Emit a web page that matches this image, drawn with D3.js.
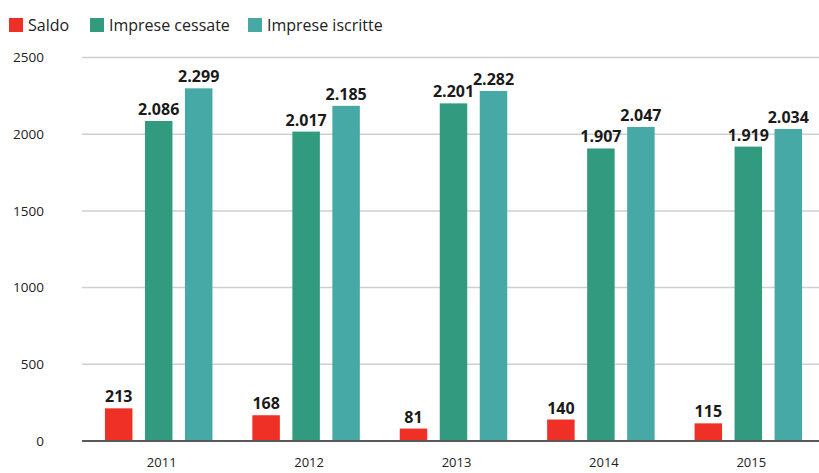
<!DOCTYPE html>
<html>
<head>
<meta charset="utf-8">
<script src="https://cdn.jsdelivr.net/npm/d3@7"></script>
<style>
  html, body { margin: 0; padding: 0; background: #fff; }
  svg { display: block; font-family: "Open Sans", sans-serif; }
</style>
</head>
<body>
<svg id="chart" width="819" height="473"></svg>
<script>
// Saldo tra imprese iscritte e cessate, 2011-2015
const years = ["2011", "2012", "2013", "2014", "2015"];
const seriesNames = ["Saldo", "Imprese cessate", "Imprese iscritte"];
const saldo = [213, 168, 81, 140, 115];
const cessate = [2086, 2017, 2201, 1907, 1919];
const iscritte = [2299, 2185, 2282, 2047, 2034];
const yTicks = [0, 500, 1000, 1500, 2000, 2500];
const colors = ["#ee3026", "#329b7f", "#47a9a5"];

const seriesValues = [saldo, cessate, iscritte];
const rows = years.map((y, i) => ({
  year: y,
  values: seriesNames.map((s, k) => ({ key: s, value: seriesValues[k][i] }))
}));

const it = d3.formatLocale({ decimal: ",", thousands: ".", grouping: [3], currency: ["€", ""] });
const fmt = it.format(",d");

const svg = d3.select("#chart");
const gridLeft = 82, gridRight = 819;

const y = d3.scaleLinear().domain([0, 2500]).range([441, 57.5]);
const x0 = d3.scaleBand().domain(years).range([85, 822]).padding(0);
const x1 = d3.scaleBand().domain(seriesNames).range([-53.75, 53.75])
  .paddingInner(0.3125).paddingOuter(0);
const color = d3.scaleOrdinal().domain(seriesNames).range(colors);

// horizontal gridlines
svg.append("g").selectAll("line")
  .data(yTicks.filter(t => t > 0))
  .join("line")
  .attr("x1", gridLeft).attr("x2", gridRight)
  .attr("y1", d => y(d)).attr("y2", d => y(d))
  .attr("stroke", "#cfcfcf").attr("stroke-width", 1.5);

// y axis labels
const yAxis = d3.axisLeft(y).tickValues(yTicks).tickSize(0).tickPadding(0).tickFormat(d3.format("d"));
const gy = svg.append("g").attr("transform", "translate(44,0)").call(yAxis);
gy.select(".domain").remove();
gy.selectAll("text")
  .attr("font-family", "Open Sans, sans-serif")
  .attr("font-size", 13.5)
  .attr("fill", "#222");

// bars
const groups = svg.append("g").selectAll("g")
  .data(rows)
  .join("g")
  .attr("transform", d => `translate(${x0(d.year) + x0.bandwidth() / 2},0)`);

groups.selectAll("rect")
  .data(d => d.values)
  .join("rect")
  .attr("x", d => x1(d.key))
  .attr("width", x1.bandwidth())
  .attr("y", d => y(d.value))
  .attr("height", d => y(0) - y(d.value))
  .attr("fill", d => color(d.key));

groups.selectAll("text.val")
  .data(d => d.values)
  .join("text")
  .attr("class", "val")
  .attr("x", d => x1(d.key) + x1.bandwidth() / 2)
  .attr("y", d => y(d.value) - 6)
  .attr("text-anchor", "middle")
  .attr("font-family", "Open Sans, sans-serif")
  .attr("font-weight", "bold")
  .attr("font-size", 16)
  .attr("fill", "#1a1a1a")
  .text(d => fmt(d.value));

// baseline
svg.append("line")
  .attr("x1", gridLeft).attr("x2", gridRight)
  .attr("y1", y(0)).attr("y2", y(0))
  .attr("stroke", "#5a5a5a").attr("stroke-width", 2);

// x axis labels
const xAxis = d3.axisBottom(x0).tickSize(0).tickPadding(0);
const gx = svg.append("g").attr("transform", "translate(3,467)").call(xAxis);
gx.select(".domain").remove();
gx.selectAll("text")
  .attr("dy", 0)
  .attr("font-family", "Open Sans, sans-serif")
  .attr("font-size", 13)
  .attr("fill", "#222");

// legend
const legendX = [9, 90, 248];
const legend = svg.append("g").selectAll("g")
  .data(seriesNames)
  .join("g")
  .attr("transform", (d, i) => `translate(${legendX[i]},18)`);
legend.append("rect")
  .attr("width", 14).attr("height", 14)
  .attr("fill", d => color(d));
legend.append("text")
  .attr("x", 19).attr("y", 13)
  .attr("font-family", "Open Sans, sans-serif")
  .attr("font-size", 16)
  .attr("fill", "#222")
  .text(d => d);
</script>
</body>
</html>
